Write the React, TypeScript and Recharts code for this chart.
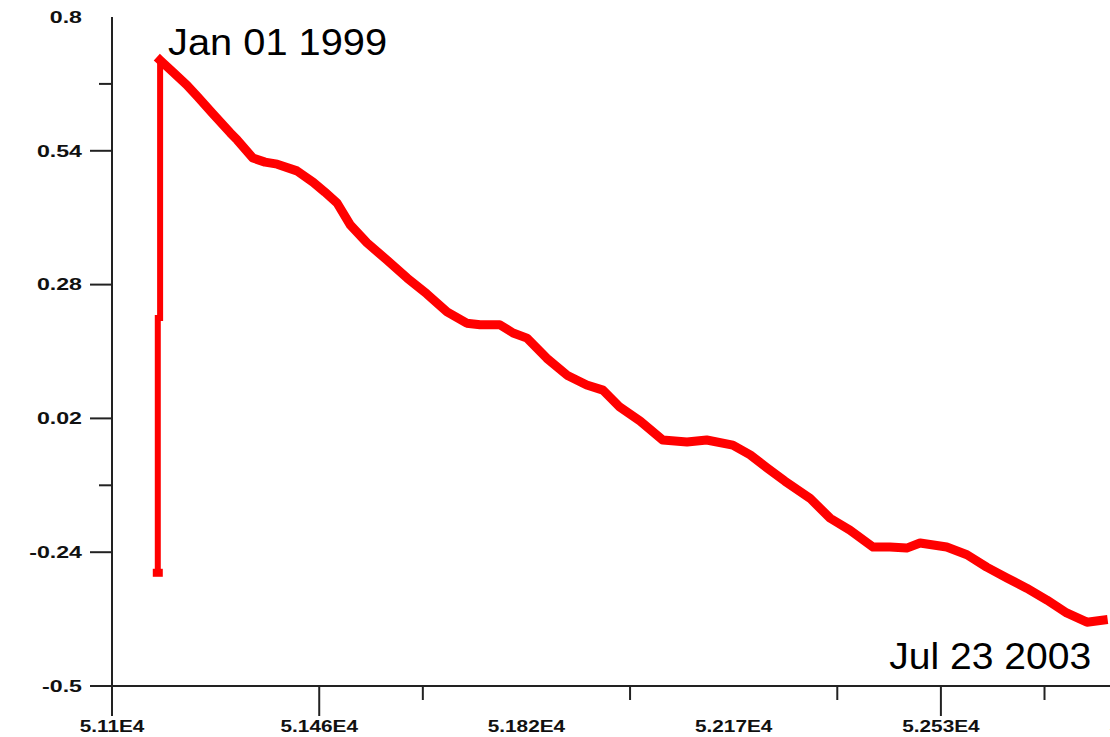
import React from 'react';
import { LineChart, Line, XAxis, YAxis } from 'recharts';

// Initial jump at the start of the series (MJD, value)
const jumpMjd = [51179, 51179, 51183, 51183];
const jumpValue = [-0.28, 0.215, 0.215, 0.716];

// Main decreasing curve (MJD, value)
const mainMjd = [51183, 51205, 51229, 51247, 51274, 51304, 51316, 51343, 51364, 51385, 51419, 51447, 51467, 51488, 51511, 51540, 51574, 51609, 51643, 51678, 51712, 51735, 51769, 51792, 51816, 51850, 51885, 51919, 51947, 51976, 52011, 52050, 52092, 52126, 52171, 52201, 52230, 52261, 52304, 52339, 52373, 52413, 52442, 52471, 52494, 52540, 52575, 52609, 52644, 52678, 52713, 52747, 52782, 52810];
const mainValue = [0.716, 0.693, 0.668, 0.646, 0.612, 0.575, 0.561, 0.526, 0.518, 0.514, 0.501, 0.479, 0.46, 0.439, 0.396, 0.361, 0.328, 0.293, 0.262, 0.227, 0.205, 0.202, 0.202, 0.186, 0.176, 0.137, 0.104, 0.085, 0.075, 0.042, 0.015, -0.022, -0.026, -0.022, -0.032, -0.051, -0.076, -0.102, -0.135, -0.174, -0.197, -0.23, -0.23, -0.232, -0.222, -0.23, -0.245, -0.269, -0.29, -0.31, -0.333, -0.358, -0.376, -0.372];

const dateLabels = ['Jan 01 1999', 'Jul 23 2003'];

const xTicks = [51100, 51278.75, 51457.5, 51636.25, 51815, 51993.75, 52172.5, 52351.25, 52530, 52708.75, 52887.5];
const xTickLabels = ['5.11E4', '5.146E4', '5.182E4', '5.217E4', '5.253E4', '5.289E4'];
const xTickKinds = ['long', 'none', 'long', 'short', 'none', 'short', 'none', 'short', 'long', 'short', 'long'];

const yTicks = [0.8, 0.67, 0.54, 0.41, 0.28, 0.15, 0.02, -0.11, -0.24, -0.37, -0.5];
const yTickLabels = ['0.8', '0.54', '0.28', '0.02', '-0.24', '-0.5'];
const yTickKinds = ['none', 'short', 'long', 'none', 'long', 'none', 'long', 'short', 'long', 'none', 'long'];

const jumpData = jumpMjd.map((x, i) => ({ x, v: jumpValue[i] }));
const mainData = mainMjd.map((x, i) => ({ x, v: mainValue[i] }));

const AXIS = '#222';
const RED = '#ff0000';
const FONT = '"Liberation Sans", Arial, sans-serif';

const XTick = (props: any) => {
  const { x, y, payload } = props;
  const idx = xTicks.indexOf(payload.value);
  const kind = xTickKinds[idx];
  const len = kind === 'long' ? 30 : kind === 'short' ? 14 : 0;
  const label = idx % 2 === 0 ? xTickLabels[idx / 2] : null;
  return (
    <g>
      {len > 0 && <line x1={x} y1={y} x2={x} y2={y + len} stroke={AXIS} strokeWidth={2} />}
      {label && (
        <text
          transform={`translate(${x},${y + 46}) scale(1.3,1)`}
          textAnchor="middle"
          fontFamily={FONT}
          fontWeight="bold"
          fontSize={16}
          fill="#111"
        >
          {label}
        </text>
      )}
    </g>
  );
};

const YTick = (props: any) => {
  const { x, y, payload } = props;
  const idx = yTicks.indexOf(payload.value);
  const kind = yTickKinds[idx];
  const len = kind === 'long' ? 22 : kind === 'short' ? 13 : 0;
  const label = idx % 2 === 0 ? yTickLabels[idx / 2] : null;
  return (
    <g>
      {len > 0 && <line x1={x - len} y1={y} x2={x} y2={y} stroke={AXIS} strokeWidth={2} />}
      {label && (
        <text
          transform={`translate(${x - 30},${y}) scale(1.45,1)`}
          textAnchor="end"
          dy="0.36em"
          fontFamily={FONT}
          fontWeight="bold"
          fontSize={16}
          fill="#111"
        >
          {label}
        </text>
      )}
    </g>
  );
};

const mainLabel = (props: any) => {
  const { x, y, index } = props;
  if (index === 0) {
    return (
      <text key="lbl-start" x={x + 8} y={y - 5} fontFamily={FONT} fontSize={37} fill="#000" textLength={219} lengthAdjust="spacingAndGlyphs">
        {dateLabels[0]}
      </text>
    );
  }
  if (index === mainData.length - 1) {
    return (
      <text key="lbl-end" x={x - 214} y={y + 49} fontFamily={FONT} fontSize={37} fill="#000" textLength={202} lengthAdjust="spacingAndGlyphs">
        {dateLabels[1]}
      </text>
    );
  }
  return <g key={`lbl-${index}`} />;
};

const jumpDot = (props: any) => {
  const { cx, cy, index } = props;
  if (index === 0) {
    return <rect key="jd-0" x={cx - 5} y={cy - 4} width={10} height={8} fill={RED} />;
  }
  return <g key={`jd-${index}`} />;
};

export default function App() {
  return (
    <div style={{ position: 'absolute', left: 0, top: 0, width: 1110, height: 737, overflow: 'hidden', background: '#fff' }}>
      <LineChart width={1200} height={737} margin={{ top: 17, right: 0, bottom: 0, left: 0 }}>
        <XAxis
          dataKey="x"
          type="number"
          domain={[51100, 52977]}
          ticks={xTicks}
          interval={0}
          tickSize={0}
          tickMargin={0}
          tickLine={false}
          axisLine={{ stroke: AXIS, strokeWidth: 2 }}
          tick={XTick}
          height={51}
          allowDataOverflow
        />
        <YAxis
          dataKey="v"
          type="number"
          domain={[-0.5, 0.8]}
          ticks={yTicks}
          interval={0}
          tickSize={0}
          tickMargin={0}
          tickLine={false}
          axisLine={{ stroke: AXIS, strokeWidth: 2 }}
          tick={YTick}
          width={112}
          allowDataOverflow
        />
        <Line
          data={jumpData}
          dataKey="v"
          type="linear"
          stroke={RED}
          strokeWidth={6}
          strokeLinecap="butt"
          strokeLinejoin="miter"
          dot={jumpDot}
          activeDot={false}
          isAnimationActive={false}
        />
        <Line
          data={mainData}
          dataKey="v"
          type="linear"
          stroke={RED}
          strokeWidth={9}
          strokeLinecap="square"
          strokeLinejoin="round"
          dot={false}
          activeDot={false}
          label={mainLabel}
          isAnimationActive={false}
        />
      </LineChart>
    </div>
  );
}
